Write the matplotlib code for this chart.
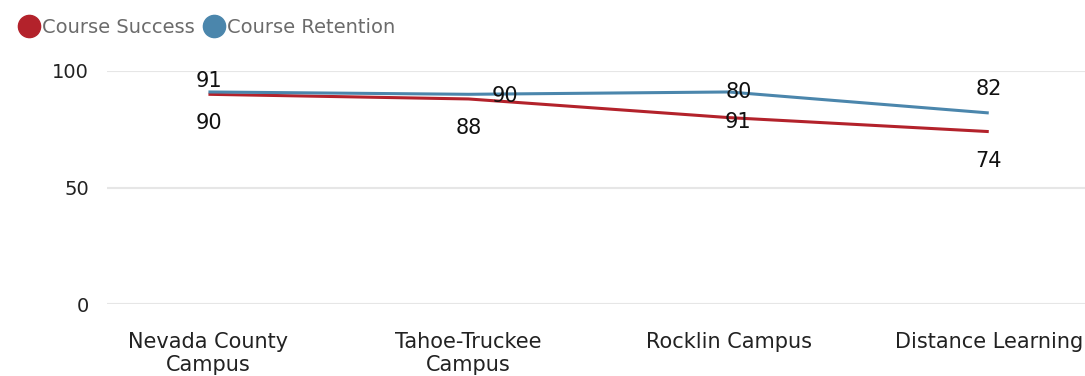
import matplotlib
matplotlib.use("Agg")
import matplotlib.pyplot as plt
from matplotlib.lines import Line2D

campuses = ["Nevada County\nCampus", "Tahoe-Truckee\nCampus", "Rocklin Campus", "Distance Learning"]
course_success = [90, 88, 80, 74]
course_retention = [91, 90, 91, 82]
# data labels as printed on the chart
success_labels = ["90", "88", "91", "74"]
retention_labels = ["91", "90", "80", "82"]
y_ticks = [0, 50, 100]

red = "#B3222B"
blue = "#4B86AC"

plt.rcParams["font.family"] = ["DejaVu Sans"]

fig = plt.figure(figsize=(10.85, 3.76), dpi=100)
ax = fig.add_axes([107 / 1085, 1 - 304 / 376, 978 / 1085, 233 / 376])

x = list(range(len(campuses)))
ax.plot(x, course_success, color=red, lw=2.2, solid_capstyle="butt", zorder=3)
ax.plot(x, course_retention, color=blue, lw=2.2, solid_capstyle="butt", zorder=3)

ax.set_xlim(-0.39, 3.37)
ax.set_ylim(0, 100)
ax.set_yticks(y_ticks)
ax.set_yticklabels([str(t) for t in y_ticks], fontsize=14, color="#222222")
ax.set_xticks(x)
ax.set_xticklabels(campuses, fontsize=15, color="#222222", linespacing=1.15)
ax.tick_params(axis="both", length=0)
ax.tick_params(axis="x", pad=20.5)
ax.tick_params(axis="y", pad=13)
ax.grid(axis="y", color="#E6E6E6", lw=1.5)
ax.set_axisbelow(True)
for s in ax.spines.values():
    s.set_visible(False)

# label offsets in points (dx, dy)
ret_off = [(0, 8), (26, -1), (7, 0), (0, 17)]
suc_off = [(0, -21), (0, -21), (7, -3), (0, -21)]
lbl_font = dict(fontsize=15, color="#111111", ha="center", va="center")
for i in x:
    ax.annotate(retention_labels[i], (i, course_retention[i]), xytext=ret_off[i],
                textcoords="offset points", zorder=4, **lbl_font)
    ax.annotate(success_labels[i], (i, course_success[i]), xytext=suc_off[i],
                textcoords="offset points", zorder=4, **lbl_font)

handles = [
    Line2D([], [], marker="o", ls="", color=red, markersize=16),
    Line2D([], [], marker="o", ls="", color=blue, markersize=16),
]
fig.legend(handles, ["Course Success", "Course Retention"], loc="upper left",
           bbox_to_anchor=(0.0, 0.998), ncol=2, frameon=False, fontsize=14,
           labelcolor="#6B6B6B", handletextpad=0.05, columnspacing=0.4,
           handlelength=1.2)

fig.savefig("out.png", dpi=100)
